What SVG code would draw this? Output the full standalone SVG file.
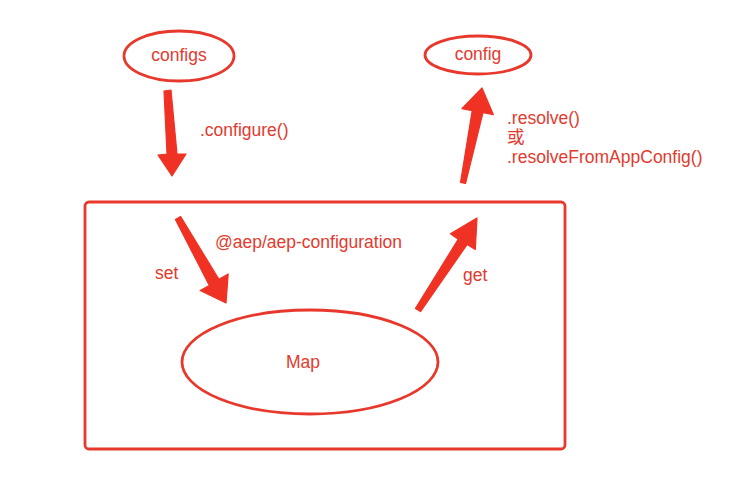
<svg xmlns="http://www.w3.org/2000/svg" width="732" height="478" viewBox="0 0 732 478">
<style>
.shape{fill:none;stroke:#e8382c;stroke-width:2.8}
.arrow{fill:#f03224;stroke:#f03224;stroke-width:1.2;stroke-linejoin:round}
text{font-family:"Liberation Sans","Noto Sans CJK SC",sans-serif;font-size:17.5px;fill:#e33a2e}
.c{text-anchor:middle}
</style>
<rect width="732" height="478" fill="#ffffff"/>
<g id="configs"><ellipse class="shape" cx="179" cy="56" rx="55" ry="25"/><text class="c" x="179" y="61">configs</text></g>
<g id="config"><ellipse class="shape" cx="478" cy="55" rx="53" ry="19"/><text class="c" x="478" y="60">config</text></g>
<g id="aep-configuration"><rect class="shape" x="85" y="202" width="480" height="247" rx="4"/><text x="215" y="248">@aep/aep-configuration</text></g>
<g id="map"><ellipse class="shape" cx="310" cy="362" rx="128" ry="52"/><text class="c" x="303" y="368">Map</text></g>
<g id="connectors">
<polygon class="arrow" points="164,91 171,90 177,154 186,154 172,176 158,155 167,154"/>
<text x="200" y="136">.configure()</text>
<polygon class="arrow" points="460.5,182.5 472.2,110.6 461.9,108.6 482,88 493.3,114.6 483,112.6 465.5,183.5"/>
<text x="507" y="124">.resolve()</text>
<text x="507" y="143">或</text>
<text x="507" y="163">.resolveFromAppConfig()</text>
<polygon class="arrow" points="175.4,219.5 209.3,285.4 200.2,290.5 226,303 228.2,274 218.9,279.2 180.6,216.5"/>
<text x="155" y="279">set</text>
<polygon class="arrow" points="415.5,308.4 458.2,239.3 450.4,233.8 477,218 475.3,249.5 467.2,244.4 420.5,311.6"/>
<text x="463" y="281">get</text>
</g>
</svg>
